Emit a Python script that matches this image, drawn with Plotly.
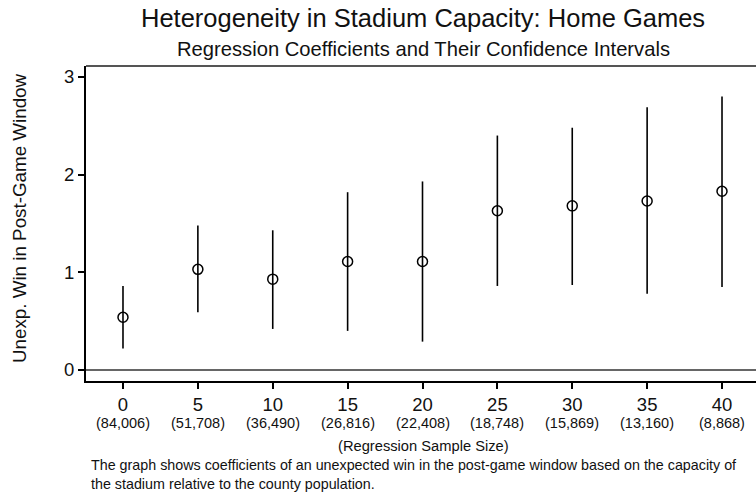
import plotly.graph_objects as go

thresholds = [0, 5, 10, 15, 20, 25, 30, 35, 40]
coef = [0.54, 1.03, 0.93, 1.11, 1.11, 1.63, 1.68, 1.73, 1.83]
ci_hi = [0.86, 1.48, 1.43, 1.82, 1.93, 2.40, 2.48, 2.69, 2.80]
ci_lo = [0.22, 0.59, 0.42, 0.40, 0.29, 0.86, 0.87, 0.78, 0.85]
sample_sizes = ["(84,006)", "(51,708)", "(36,490)", "(26,816)", "(22,408)",
                "(18,748)", "(15,869)", "(13,160)", "(8,868)"]
y_ticks = [0, 1, 2, 3]

FONT = "Liberation Sans, Arial, sans-serif"

W, H = 756, 493
l, r, t, b = 86, 0, 66, 112
pw, ph = W - l - r, H - t - b
def px(xp):
    return (xp - l) / pw
def py(yp):
    return (H - b - yp) / ph

fig = go.Figure()
fig.add_trace(go.Scatter(
    x=thresholds, y=coef, mode="markers",
    marker=dict(symbol="circle-open", size=10, color="black", line=dict(width=1.5, color="black")),
    error_y=dict(type="data", symmetric=False,
                 array=[h - c for h, c in zip(ci_hi, coef)],
                 arrayminus=[c - lo for c, lo in zip(coef, ci_lo)],
                 width=0, thickness=1.6, color="black"),
    showlegend=False, hoverinfo="skip",
))

fig.add_hline(y=0, line=dict(color="#666666", width=2))

annotations = []
for tv, s in zip(thresholds, sample_sizes):
    annotations.append(dict(x=tv, y=py(423), xref="x", yref="paper", text=s,
                            showarrow=False, font=dict(family=FONT, size=14.5, color="#111"),
                            xanchor="center", yanchor="middle"))

annotations += [
    dict(x=px(423), y=py(446), xref="paper", yref="paper", text="(Regression Sample Size)",
         showarrow=False, xanchor="center", yanchor="middle", font=dict(family=FONT, size=14.7, color="#111")),
    dict(x=px(423), y=py(18), xref="paper", yref="paper", text="Heterogeneity in Stadium Capacity: Home Games",
         showarrow=False, xanchor="center", yanchor="middle", font=dict(family=FONT, size=25.5, color="#111")),
    dict(x=px(423), y=py(49), xref="paper", yref="paper", text="Regression Coefficients and Their Confidence Intervals",
         showarrow=False, xanchor="center", yanchor="middle", font=dict(family=FONT, size=20.2, color="#111")),
    dict(x=px(20), y=py(218), xref="paper", yref="paper", text="Unexp. Win in Post-Game Window",
         showarrow=False, xanchor="center", yanchor="middle", textangle=-90,
         font=dict(family=FONT, size=18.8, color="#111")),
    dict(x=px(89), y=py(474), xref="paper", yref="paper",
         text="The graph shows coefficients of an unexpected win in the post-game window based on the capacity of"
              "<br>the stadium relative to the county population.",
         showarrow=False, xanchor="left", yanchor="middle", align="left",
         font=dict(family=FONT, size=14.3, color="#111")),
]

fig.update_layout(
    width=W, height=H,
    margin=dict(l=l, r=r, t=t, b=b),
    paper_bgcolor="white", plot_bgcolor="white",
    font=dict(family=FONT, color="#111"),
    xaxis=dict(range=[-2.47, 42.27], tickvals=thresholds, ticktext=[str(v) for v in thresholds],
               showgrid=False, zeroline=False, showline=True, linecolor="black", linewidth=2,
               ticks="outside", ticklen=6, tickwidth=1.5, tickcolor="black",
               tickfont=dict(family=FONT, size=18.5, color="#111"), fixedrange=True),
    yaxis=dict(range=[-0.113, 3.112], tickvals=y_ticks, ticktext=[str(v) for v in y_ticks],
               showgrid=False, zeroline=False, showline=True, linecolor="black", linewidth=2,
               ticks="outside", ticklen=6, tickwidth=1.5, tickcolor="black",
               tickfont=dict(family=FONT, size=18.5, color="#111"), fixedrange=True),
    showlegend=False,
    annotations=annotations,
)

fig.add_shape(type="line", xref="paper", yref="paper", x0=0, x1=1, y0=1, y1=1,
              line=dict(color="#555555", width=2))

fig.write_html("out.html")
